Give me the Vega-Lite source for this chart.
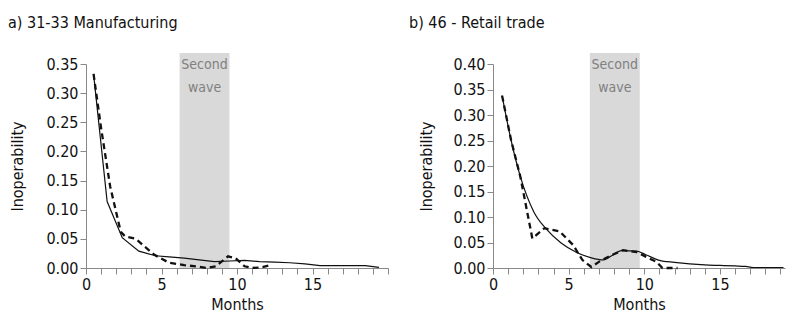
{
  "$schema": "https://vega.github.io/schema/vega-lite/v6.json",
  "padding": {"left": 8, "top": 14, "right": 0, "bottom": 0},
  "spacing": 20,
  "background": "white",
  "config": {
    "view": {"stroke": null},
    "font": "DejaVu Sans Condensed",
    "axis": {"grid": false, "domainColor": "#888888", "tickColor": "#888888", "tickSize": 6, "tickCount": 100, "labelOverlap": false, "labelFlush": false, "labelFont": "DejaVu Sans Condensed", "labelFontSize": 16, "labelColor": "#111111", "labelPadding": 2, "titleFont": "DejaVu Sans Condensed", "titleFontSize": 16, "titleFontWeight": "normal", "titleColor": "#111111"},
    "title": {"font": "DejaVu Sans Condensed", "fontSize": 16, "fontWeight": "normal", "color": "#111111", "anchor": "start", "frame": "group"}
  },
  "datasets": {
    "manuf": [
      {"series": "solid", "month": 0.5, "value": 0.333},
      {"series": "solid", "month": 1.4, "value": 0.114},
      {"series": "solid", "month": 2.4, "value": 0.052},
      {"series": "solid", "month": 3.5, "value": 0.029},
      {"series": "solid", "month": 4.6, "value": 0.021},
      {"series": "solid", "month": 5.5, "value": 0.019},
      {"series": "solid", "month": 6.5, "value": 0.017},
      {"series": "solid", "month": 7.5, "value": 0.014},
      {"series": "solid", "month": 8.5, "value": 0.011},
      {"series": "solid", "month": 9.5, "value": 0.012},
      {"series": "solid", "month": 10.5, "value": 0.013},
      {"series": "solid", "month": 11.5, "value": 0.011},
      {"series": "solid", "month": 12.5, "value": 0.010},
      {"series": "solid", "month": 13.5, "value": 0.009},
      {"series": "solid", "month": 14.5, "value": 0.007},
      {"series": "solid", "month": 15.5, "value": 0.004},
      {"series": "solid", "month": 16.5, "value": 0.004},
      {"series": "solid", "month": 17.5, "value": 0.004},
      {"series": "solid", "month": 18.5, "value": 0.004},
      {"series": "solid", "month": 19.4, "value": 0.001},
      {"series": "dashed", "month": 0.5, "value": 0.333},
      {"series": "dashed", "month": 1.0, "value": 0.240},
      {"series": "dashed", "month": 1.6, "value": 0.140},
      {"series": "dashed", "month": 2.3, "value": 0.062},
      {"series": "dashed", "month": 2.6, "value": 0.054},
      {"series": "dashed", "month": 3.3, "value": 0.050},
      {"series": "dashed", "month": 4.5, "value": 0.023},
      {"series": "dashed", "month": 5.5, "value": 0.009},
      {"series": "dashed", "month": 6.5, "value": 0.005},
      {"series": "dashed", "month": 7.5, "value": 0.002},
      {"series": "dashed", "month": 8.0, "value": 0.000},
      {"series": "dashed", "month": 8.6, "value": 0.003},
      {"series": "dashed", "month": 9.4, "value": 0.020},
      {"series": "dashed", "month": 9.9, "value": 0.017},
      {"series": "dashed", "month": 10.5, "value": 0.003},
      {"series": "dashed", "month": 11.0, "value": 0.000},
      {"series": "dashed", "month": 11.6, "value": 0.001},
      {"series": "dashed", "month": 12.2, "value": 0.005}
    ],
    "retail": [
      {"series": "solid", "month": 0.6, "value": 0.338},
      {"series": "solid", "month": 1.2, "value": 0.250},
      {"series": "solid", "month": 1.8, "value": 0.180},
      {"series": "solid", "month": 2.7, "value": 0.110},
      {"series": "solid", "month": 3.5, "value": 0.077},
      {"series": "solid", "month": 4.5, "value": 0.049},
      {"series": "solid", "month": 5.5, "value": 0.031},
      {"series": "solid", "month": 6.5, "value": 0.020},
      {"series": "solid", "month": 7.3, "value": 0.016},
      {"series": "solid", "month": 8.0, "value": 0.027},
      {"series": "solid", "month": 8.5, "value": 0.034},
      {"series": "solid", "month": 9.5, "value": 0.033},
      {"series": "solid", "month": 10.1, "value": 0.026},
      {"series": "solid", "month": 11.0, "value": 0.015},
      {"series": "solid", "month": 12.0, "value": 0.011},
      {"series": "solid", "month": 13.0, "value": 0.008},
      {"series": "solid", "month": 14.0, "value": 0.006},
      {"series": "solid", "month": 15.0, "value": 0.005},
      {"series": "solid", "month": 16.0, "value": 0.004},
      {"series": "solid", "month": 16.7, "value": 0.003},
      {"series": "solid", "month": 17.2, "value": 0.001},
      {"series": "solid", "month": 19.2, "value": 0.001},
      {"series": "dashed", "month": 0.6, "value": 0.338},
      {"series": "dashed", "month": 1.2, "value": 0.250},
      {"series": "dashed", "month": 1.8, "value": 0.180},
      {"series": "dashed", "month": 2.6, "value": 0.058},
      {"series": "dashed", "month": 3.4, "value": 0.078},
      {"series": "dashed", "month": 4.4, "value": 0.072},
      {"series": "dashed", "month": 5.3, "value": 0.045},
      {"series": "dashed", "month": 5.9, "value": 0.016},
      {"series": "dashed", "month": 6.5, "value": 0.002},
      {"series": "dashed", "month": 7.1, "value": 0.014},
      {"series": "dashed", "month": 7.9, "value": 0.026},
      {"series": "dashed", "month": 8.6, "value": 0.035},
      {"series": "dashed", "month": 9.5, "value": 0.031},
      {"series": "dashed", "month": 10.8, "value": 0.012},
      {"series": "dashed", "month": 11.2, "value": 0.000},
      {"series": "dashed", "month": 12.2, "value": 0.000}
    ]
  },
  "hconcat": [
    {
      "width": 302,
      "height": 204,
      "title": {"text": "a) 31-33 Manufacturing", "dx": -78, "offset": 22},
      "layer": [
        {
          "data": {"values": [{"start": 6.2, "end": 9.5, "base": 0, "top": 0.369, "mid": 7.85, "label": "Second\nwave"}]},
          "mark": {"type": "rect", "color": "#d9d9d9"},
          "encoding": {
            "x": {"field": "start", "type": "quantitative", "scale": {"domain": [0, 20], "nice": false},
              "axis": {"title": "Months", "values": [0,1,2,3,4,5,6,7,8,9,10,11,12,13,14,15,16,17,18,19,20], "tickCount": 100, "format": "d", "labelExpr": "datum.value % 5 == 0 && datum.value < 20 ? datum.label : ''", "titlePadding": 4}},
            "x2": {"field": "end"},
            "y": {"field": "base", "type": "quantitative", "scale": {"domain": [0, 0.35], "nice": false},
              "axis": {"title": "Inoperability", "values": [0, 0.05, 0.1, 0.15, 0.2, 0.25, 0.3, 0.35], "tickCount": 100, "format": ".2f", "titlePadding": 20}},
            "y2": {"field": "top"}
          }
        },
        {
          "data": {"values": [{"start": 6.2, "end": 9.5, "base": 0, "top": 0.369, "mid": 7.85, "label": "Second\nwave"}]},
          "mark": {"type": "text", "color": "#808080", "fontSize": 14, "baseline": "top", "align": "center", "dy": 5, "lineBreak": "\n", "lineHeight": 23},
          "encoding": {
            "x": {"field": "mid", "type": "quantitative"},
            "y": {"field": "top", "type": "quantitative"},
            "text": {"field": "label"}
          }
        },
        {
          "data": {"name": "manuf"},
          "transform": [{"filter": "datum.series == 'solid'"}],
          "mark": {"type": "line", "color": "#111111", "strokeWidth": 1.2},
          "encoding": {
            "x": {"field": "month", "type": "quantitative"},
            "y": {"field": "value", "type": "quantitative"}
          }
        },
        {
          "data": {"name": "manuf"},
          "transform": [{"filter": "datum.series == 'dashed'"}],
          "mark": {"type": "line", "color": "#111111", "strokeWidth": 2.3, "strokeDash": [6, 4]},
          "encoding": {
            "x": {"field": "month", "type": "quantitative"},
            "y": {"field": "value", "type": "quantitative"}
          }
        }
      ]
    },
    {
      "width": 292,
      "height": 204,
      "title": {"text": "b) 46 - Retail trade", "dx": -84, "offset": 22},
      "layer": [
        {
          "data": {"values": [{"start": 6.4, "end": 9.7, "base": 0, "top": 0.4216, "mid": 8.05, "label": "Second\nwave"}]},
          "mark": {"type": "rect", "color": "#d9d9d9"},
          "encoding": {
            "x": {"field": "start", "type": "quantitative", "scale": {"domain": [0, 19.3], "nice": false},
              "axis": {"title": "Months", "values": [0,1,2,3,4,5,6,7,8,9,10,11,12,13,14,15,16,17,18,19], "tickCount": 100, "format": "d", "labelExpr": "datum.value % 5 == 0 ? datum.label : ''", "titlePadding": 4}},
            "x2": {"field": "end"},
            "y": {"field": "base", "type": "quantitative", "scale": {"domain": [0, 0.4], "nice": false},
              "axis": {"title": "Inoperability", "values": [0, 0.05, 0.1, 0.15, 0.2, 0.25, 0.3, 0.35, 0.4], "tickCount": 100, "format": ".2f", "titlePadding": 18}},
            "y2": {"field": "top"}
          }
        },
        {
          "data": {"values": [{"start": 6.4, "end": 9.7, "base": 0, "top": 0.4216, "mid": 8.05, "label": "Second\nwave"}]},
          "mark": {"type": "text", "color": "#808080", "fontSize": 14, "baseline": "top", "align": "center", "dy": 5, "lineBreak": "\n", "lineHeight": 23},
          "encoding": {
            "x": {"field": "mid", "type": "quantitative"},
            "y": {"field": "top", "type": "quantitative"},
            "text": {"field": "label"}
          }
        },
        {
          "data": {"name": "retail"},
          "transform": [{"filter": "datum.series == 'solid'"}],
          "mark": {"type": "line", "color": "#111111", "strokeWidth": 1.2, "interpolate": "monotone"},
          "encoding": {
            "x": {"field": "month", "type": "quantitative"},
            "y": {"field": "value", "type": "quantitative"}
          }
        },
        {
          "data": {"name": "retail"},
          "transform": [{"filter": "datum.series == 'dashed'"}],
          "mark": {"type": "line", "color": "#111111", "strokeWidth": 2.3, "strokeDash": [6, 4]},
          "encoding": {
            "x": {"field": "month", "type": "quantitative"},
            "y": {"field": "value", "type": "quantitative"}
          }
        }
      ]
    }
  ]
}
